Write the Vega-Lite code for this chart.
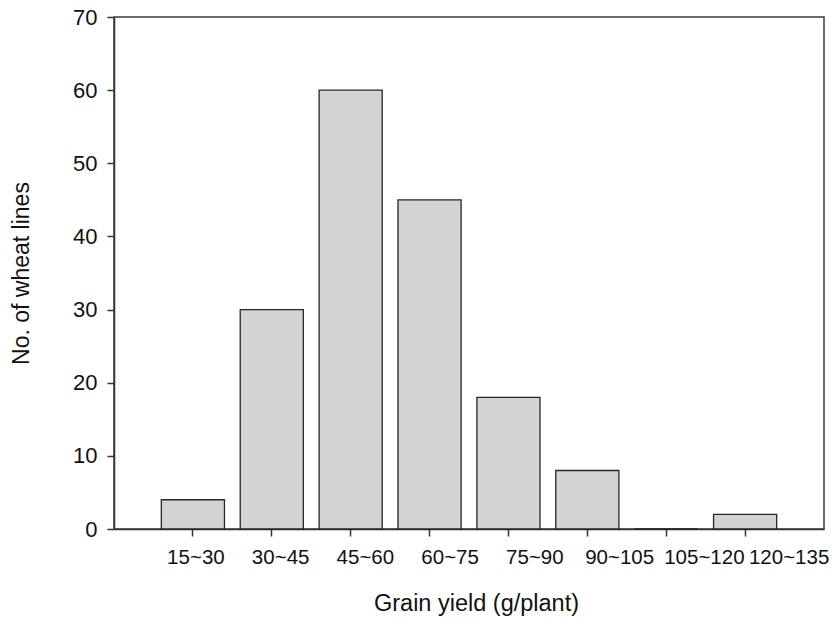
{
  "$schema": "https://vega.github.io/schema/vega-lite/v6.json",
  "width": 710,
  "height": 512,
  "autosize": {"type": "none"},
  "padding": {"left": 114, "top": 17, "right": 8, "bottom": 90},
  "background": "white",
  "config": {
    "view": {"stroke": "#3a3a3a", "strokeWidth": 1.5},
    "font": "Liberation Sans"
  },
  "data": {
    "values": [
      {"yield": "15~30", "count": 4},
      {"yield": "30~45", "count": 30},
      {"yield": "45~60", "count": 60},
      {"yield": "60~75", "count": 45},
      {"yield": "75~90", "count": 18},
      {"yield": "90~105", "count": 8},
      {"yield": "105~120", "count": 0},
      {"yield": "120~135", "count": 2}
    ]
  },
  "mark": {"type": "bar", "fill": "#d3d3d3", "stroke": "#262626", "strokeWidth": 1.3},
  "encoding": {
    "x": {
      "field": "yield",
      "type": "nominal",
      "sort": null,
      "scale": {"paddingInner": 0.2, "paddingOuter": 0.6},
      "axis": {
        "title": "Grain yield (g/plant)",
        "labelAngle": 0,
        "labelFontSize": 20.5,
        "labelColor": "#111111",
        "labelPadding": 11,
        "labelOffset": {"expr": "3 + 41 * datum.index"},
        "labelOverlap": false,
        "tickSize": 7,
        "tickColor": "#333333",
        "tickWidth": 1.5,
        "domainColor": "#333333",
        "domainWidth": 1.5,
        "titleFontSize": 23.5,
        "titleFontWeight": "normal",
        "titleColor": "#111111",
        "titlePadding": 24,
        "titleX": 362
      }
    },
    "y": {
      "field": "count",
      "type": "quantitative",
      "scale": {"domain": [0, 70], "nice": false},
      "axis": {
        "title": "No. of wheat lines",
        "values": [0, 10, 20, 30, 40, 50, 60, 70],
        "grid": false,
        "labelFontSize": 22,
        "labelColor": "#111111",
        "labelPadding": 10,
        "tickSize": 7,
        "tickColor": "#333333",
        "tickWidth": 1.5,
        "domainColor": "#333333",
        "domainWidth": 1.5,
        "titleFontSize": 23,
        "titleFontWeight": "normal",
        "titleColor": "#111111",
        "titlePadding": 39
      }
    }
  }
}
